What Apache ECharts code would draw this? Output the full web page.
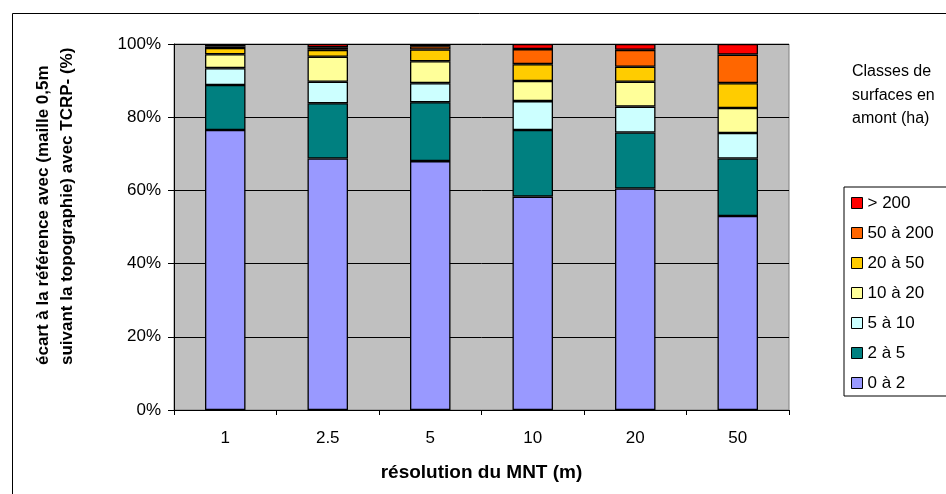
<!DOCTYPE html>
<html>
<head>
<meta charset="utf-8">
<script src="https://cdn.jsdelivr.net/npm/echarts@6/dist/echarts.min.js"></script>
<style>
html,body{margin:0;padding:0;background:#fff;}
#chart{width:946px;height:494px;}
</style>
</head>
<body>
<div id="chart"></div>
<script>
const categories = ['1', '2.5', '5', '10', '20', '50'];
const classNames = ['0 à 2', '2 à 5', '5 à 10', '10 à 20', '20 à 50', '50 à 200', '> 200'];
const s0a2 = [76.5, 68.7, 68.0, 58.3, 60.5, 53.0];
const s2a5 = [12.3, 15.1, 16.1, 18.2, 15.3, 15.7];
const s5a10 = [4.6, 5.9, 5.2, 7.9, 7.1, 7.0];
const s10a20 = [3.8, 6.8, 6.0, 5.5, 6.8, 6.8];
const s20a50 = [1.7, 1.9, 3.2, 4.6, 4.1, 6.8];
const s50a200 = [0.4, 0.7, 0.9, 4.1, 4.6, 7.8];
const sSup200 = [0.7, 0.9, 0.6, 1.4, 1.6, 2.9];
const colors = ['#9999FF', '#008080', '#CCFFFF', '#FFFF99', '#FFCC00', '#FF6600', '#FF0000'];
const yTicks = [0, 20, 40, 60, 80, 100];

const seriesData = [s0a2, s2a5, s5a10, s10a20, s20a50, s50a200, sSup200];
const font = 'Liberation Sans, Arial, sans-serif';

const chart = echarts.init(document.getElementById('chart'), null, {renderer: 'canvas'});
chart.setOption({
  animation: false,
  backgroundColor: '#fff',
  textStyle: {fontFamily: font},
  title: {
    text: 'Classes de\nsurfaces en\namont (ha)',
    left: 852, top: 60, padding: 0,
    textStyle: {fontFamily: font, fontSize: 16, fontWeight: 'normal', color: '#000', lineHeight: 23.5}
  },
  graphic: [
    {type: 'rect', z: -1, silent: true, shape: {x: 12.5, y: 13.5, width: 1000, height: 1000},
     style: {fill: 'none', stroke: '#000', lineWidth: 1}},
    {type: 'text', x: 55, y: 365, rotation: Math.PI / 2, silent: true,
     style: {text: 'écart à la référence avec (maille 0,5m\nsuivant la topographie) avec TCRP- (%)',
       font: 'bold 17px ' + font, fill: '#000', align: 'left', verticalAlign: 'middle', lineHeight: 24}}
  ],
  legend: {
    orient: 'vertical',
    left: 844, top: 187,
    data: classNames.slice().reverse(),
    backgroundColor: '#fff',
    borderColor: '#000', borderWidth: 1, borderRadius: 0,
    padding: [6, 40, 3, 7],
    itemWidth: 11, itemHeight: 11, itemGap: 10,
    icon: 'rect',
    itemStyle: {borderColor: '#000', borderWidth: 1},
    textStyle: {fontFamily: font, fontSize: 17, color: '#000', lineHeight: 20}
  },
  grid: {left: 174, right: 157, top: 44, bottom: 84, show: true,
    backgroundColor: '#C0C0C0', borderColor: '#808080', borderWidth: 1},
  xAxis: {
    type: 'category', data: categories,
    name: 'résolution du MNT (m)', nameLocation: 'middle', nameGap: 53,
    nameTextStyle: {fontFamily: font, fontSize: 19, fontWeight: 'bold', color: '#000'},
    axisLine: {lineStyle: {color: '#000', width: 1}},
    axisTick: {show: true, length: 5, lineStyle: {color: '#000'}},
    axisLabel: {fontFamily: font, fontSize: 17, color: '#000', margin: 20}
  },
  yAxis: {
    type: 'value', min: 0, max: 100, interval: 20,
    axisLine: {show: true, lineStyle: {color: '#000', width: 1}},
    axisTick: {show: true, length: 6, lineStyle: {color: '#000'}},
    axisLabel: {fontFamily: font, fontSize: 17, color: '#000', margin: 13, formatter: '{value}%'},
    splitLine: {lineStyle: {color: '#000', width: 1}}
  },
  series: classNames.map((n, i) => ({
    name: n, type: 'bar', stack: 'total', data: seriesData[i],
    barWidth: '39.5%',
    itemStyle: {color: colors[i], borderColor: '#000', borderWidth: 1.3}
  }))
});
</script>
</body>
</html>
